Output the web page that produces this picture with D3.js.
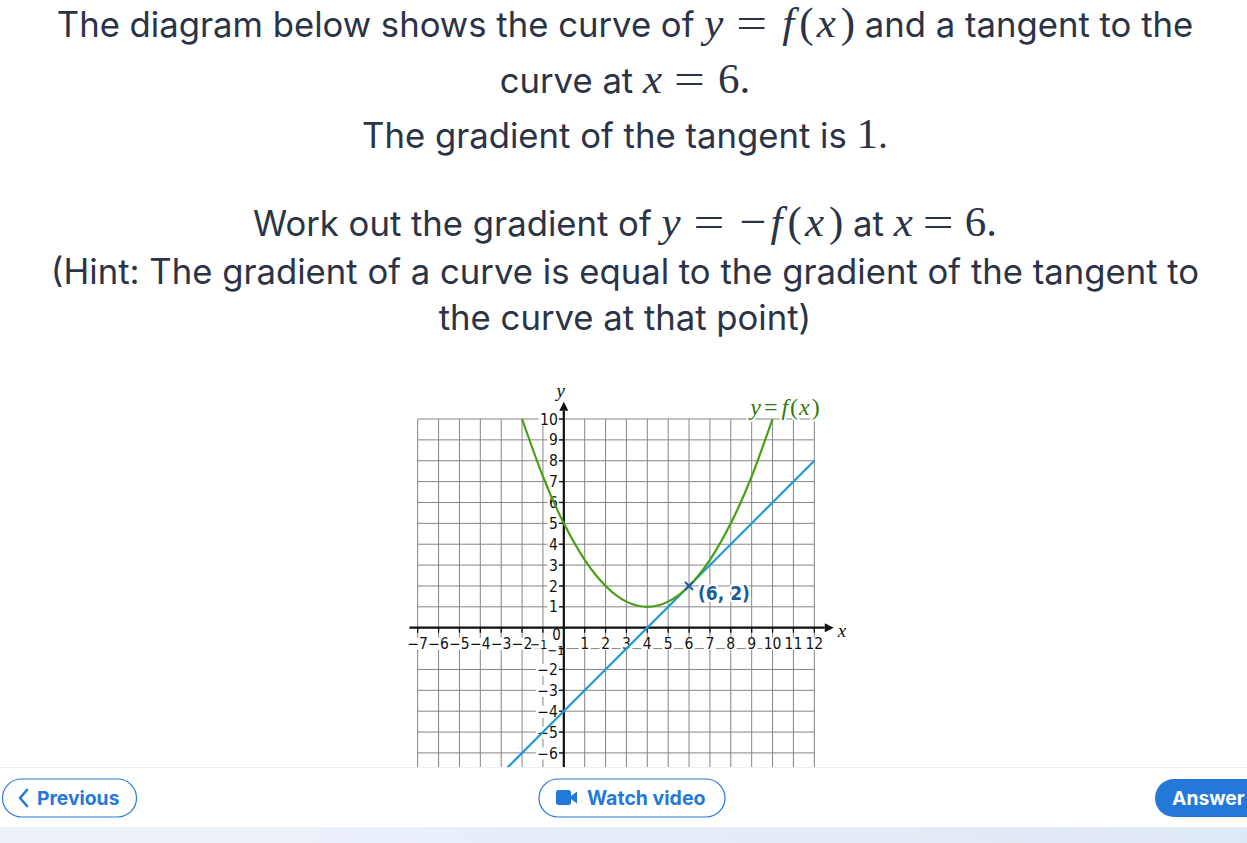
<!DOCTYPE html>
<html><head><meta charset="utf-8">
<script src="https://cdn.jsdelivr.net/npm/d3@7"></script>
<style>
html,body{margin:0;padding:0;background:#fff;overflow:hidden}
svg{display:block}
</style></head>
<body>
<script>
// ---------- data ----------
const xTicks = [-7,-6,-5,-4,-3,-2,-1,0,1,2,3,4,5,6,7,8,9,10,11,12];
const yTicks = [-7,-6,-5,-4,-3,-2,-1,0,1,2,3,4,5,6,7,8,9,10];
const xLabels = [-7,-6,-5,-4,-3,-2,-1,1,2,3,4,5,6,7,8,9,10,11,12];
const yLabels = [-6,-5,-4,-3,-2,-1,1,2,3,4,5,6,7,8,9,10];
const curveX = [-2,-1,0,1,2,3,4,5,6,7,8,9,10];
const curveY = [10,7.25,5,3.25,2,1.25,1,1.25,2,3.25,5,7.25,10];
const tangentX = [-3,12];
const tangentY = [-7,8];
const pointX = [6];
const pointY = [2];
const pointLabel = ["(6, 2)"];

const W = 1247, H = 843;
const svg = d3.select("body").append("svg").attr("width", W).attr("height", H);

// ---------- header text ----------
const sans = "Inter, 'Open Sans', sans-serif";
const serif = "'Liberation Serif', 'DejaVu Serif', serif";
const txtCol = "#2b3346";
// part: [text, kind (t text / m math italic / u math upright), dx, textLength]
const lines = [
  {y:37, parts:[["The diagram below shows the curve of ","t"],["y","m"],["=","u",13,31],["f","m",15],["(","u",5],["x","m",3],[")","u",5],[" and a tangent to the","t"]]},
  {y:93, parts:[["curve at ","t"],["x","m"],["=","u",12,31],["6.","u",13]]},
  {y:148, parts:[["The gradient of the tangent is ","t"],["1","u"],[".","t"]]},
  {y:236, parts:[["Work out the gradient of ","t"],["y","m"],["=","u",13,31],["−","u",15,27],["f","m",4],["(","u",5],["x","m",3],[")","u",5],[" at ","t"],["x","m"],["=","u",10,31],["6.","u",11]]},
  {y:284, parts:[["(Hint: The gradient of a curve is equal to the gradient of the tangent to","t"]]},
  {y:330, parts:[["the curve at that point)","t"]]}
];
lines.forEach(l => {
  const t = svg.append("text").attr("x", 625).attr("y", l.y)
    .attr("text-anchor","middle").attr("fill", txtCol)
    .style("font-family", sans).style("font-size","34.7px").style("font-weight","400");
  l.parts.forEach(p => {
    const s = t.append("tspan").text(p[0]);
    if (p[1] === "m") s.style("font-family", serif).style("font-style","italic").style("font-size","43px");
    if (p[1] === "u") s.style("font-family", serif).style("font-size","43px");
    if (p[2]) s.attr("dx", p[2]);
    if (p[3]) s.attr("textLength", p[3]).attr("lengthAdjust","spacingAndGlyphs");
  });
});

// ---------- chart ----------
const x = d3.scaleLinear().domain([-7,12]).range([417.7,814.3]);
const y = d3.scaleLinear().domain([0,10]).range([627.7,419]);
const bottomClip = 767;

svg.append("clipPath").attr("id","cp").append("rect")
  .attr("x",0).attr("y",0).attr("width",W).attr("height",bottomClip);
const g = svg.append("g").attr("clip-path","url(#cp)");

const gridCol = "#858585";
g.append("g").selectAll("line").data(xTicks).join("line")
  .attr("x1", d=>x(d)).attr("x2", d=>x(d))
  .attr("y1", y(10)).attr("y2", y(-7))
  .attr("stroke", gridCol).attr("stroke-width",1);
g.append("g").selectAll("line").data(yTicks).join("line")
  .attr("x1", x(-7)).attr("x2", x(12))
  .attr("y1", d=>y(d)).attr("y2", d=>y(d))
  .attr("stroke", gridCol).attr("stroke-width",1);

const labFont = "'Liberation Sans Narrow', 'DejaVu Sans Condensed', 'Roboto', sans-serif";
const bgLayer = g.append("g");
function backBox(sel, padX = 1.5, padY = 0) {
  sel.each(function() {
    const b = this.getBBox();
    bgLayer.append("rect").attr("x", b.x - padX).attr("y", b.y + 3 - padY)
      .attr("width", b.width + 2*padX).attr("height", Math.max(0, b.height - 6 + 2*padY)).attr("fill","#fff");
  });
}

g.append("g").selectAll("line").data(xLabels).join("line")
  .attr("x1", d=>x(d)).attr("x2", d=>x(d))
  .attr("y1", y(0)).attr("y2", y(0)+5)
  .attr("stroke","#111").attr("stroke-width",1.3);
g.append("g").selectAll("line").data(yLabels).join("line")
  .attr("x1", x(0)-5).attr("x2", x(0))
  .attr("y1", d=>y(d)).attr("y2", d=>y(d))
  .attr("stroke","#111").attr("stroke-width",1.3);

const xl = g.append("g").selectAll("text").data(xLabels).join("text")
  .attr("x", d=> d === -1 ? x(d)-4 : x(d)).attr("y", y(0)+21)
  .attr("text-anchor","middle").attr("fill","#111")
  .style("font-family", labFont).style("font-size", d => d === -1 ? "13px" : "15.5px")
  .text(d => d < 0 ? "−" + Math.abs(d) : d);
const yl = g.append("g").selectAll("text").data(yLabels).join("text")
  .attr("x", d=> d === -1 ? x(0)+1 : x(0)-6).attr("y", d=> d === -1 ? y(d)+2 : y(d)).attr("dy","0.36em")
  .attr("text-anchor","end").attr("fill","#111")
  .style("font-family", labFont).style("font-size", d => d === -1 ? "13px" : "15.5px")
  .text(d => d < 0 ? "−" + Math.abs(d) : d);
const ol = g.append("text").attr("x", x(0)-3).attr("y", y(0)+12)
  .attr("text-anchor","end").attr("fill","#111")
  .style("font-family", labFont).style("font-size","15px").text("0");
backBox(xl); backBox(yl); backBox(ol);

// axes
g.append("line").attr("x1", x(-7.4)).attr("x2", x(12.5)).attr("y1", y(0)).attr("y2", y(0))
  .attr("stroke","#111").attr("stroke-width",2.2);
g.append("line").attr("x1", x(0)).attr("x2", x(0)).attr("y1", bottomClip).attr("y2", y(10.4))
  .attr("stroke","#111").attr("stroke-width",2.2);
const xa = x(12.5), ya = y(10.4);
g.append("path").attr("d", `M${xa},${y(0)-4.5} L${xa+9},${y(0)} L${xa},${y(0)+4.5} Z`).attr("fill","#111");
g.append("path").attr("d", `M${x(0)-4.5},${ya} L${x(0)},${ya-9} L${x(0)+4.5},${ya} Z`).attr("fill","#111");
g.append("text").attr("x", 842).attr("y", y(0)+9).attr("text-anchor","middle")
  .style("font-family", serif).style("font-style","italic").style("font-size","19px").attr("fill","#111").text("x");
g.append("text").attr("x", x(0)-3).attr("y", 397).attr("text-anchor","middle")
  .style("font-family", serif).style("font-style","italic").style("font-size","19px").attr("fill","#111").text("y");

// tangent
const tData = tangentX.map((d,i)=>[d,tangentY[i]]);
const lineGen = d3.line().x(d=>x(d[0])).y(d=>y(d[1]));
g.append("path").datum(tData).attr("d", lineGen)
  .attr("fill","none").attr("stroke","#1a9ad7").attr("stroke-width",2.2);

// curve
const cData = curveX.map((d,i)=>[d,curveY[i]]);
g.append("path").datum(cData).attr("d", lineGen.curve(d3.curveNatural))
  .attr("fill","none").attr("stroke","#46a013").attr("stroke-width",2.2);

// point marker
const pc = "#1d5c99";
pointX.forEach((px,i) => {
  const cx = x(px), cy = y(pointY[i]), s = 4;
  g.append("path").attr("d", `M${cx-s},${cy-s}L${cx+s},${cy+s}M${cx-s},${cy+s}L${cx+s},${cy-s}`)
    .attr("stroke", pc).attr("stroke-width",2);
  g.append("text").attr("x", cx+9).attr("y", cy+14)
    .style("font-family", labFont).style("font-size","19px").style("font-weight","bold")
    .attr("fill", pc).text(pointLabel[i])
    .attr("stroke","#fff").attr("stroke-width",4).attr("paint-order","stroke").attr("stroke-linejoin","round");
});

// curve label
const cl = g.append("text").attr("x", 785).attr("y", 415).attr("text-anchor","middle")
  .attr("fill","#2f7a0c").style("font-family", serif).style("font-size","24px")
  .attr("stroke","#fff").attr("stroke-width",4).attr("paint-order","stroke").attr("stroke-linejoin","round");
cl.append("tspan").style("font-style","italic").text("y");
cl.append("tspan").attr("dx",3).text("=");
cl.append("tspan").attr("dx",4).style("font-style","italic").text("f");
cl.append("tspan").attr("dx",2).text("(");
cl.append("tspan").attr("dx",1).style("font-style","italic").text("x");
cl.append("tspan").attr("dx",2).text(")");

// ---------- bottom bar ----------
svg.append("line").attr("x1",0).attr("x2",W).attr("y1",767.5).attr("y2",767.5).attr("stroke","#eceef5").attr("stroke-width",1);
const defs = svg.append("defs");
const lg = defs.append("linearGradient").attr("id","bg").attr("x1","0").attr("x2","1");
lg.append("stop").attr("offset","0").attr("stop-color","#eef2fa");
lg.append("stop").attr("offset","1").attr("stop-color","#dfe8f6");
svg.append("rect").attr("x",0).attr("y",827).attr("width",W).attr("height",16).attr("fill","url(#bg)");
svg.append("path").attr("d","M0,827 L320,827 L312,843 L0,843 Z").attr("fill","#edf1fa");

const blue = "#2479d8";
const btnFont = "Inter, 'Open Sans', sans-serif";
svg.append("rect").attr("x",2.5).attr("y",779).attr("width",134).attr("height",38).attr("rx",19)
  .attr("fill","#fff").attr("stroke",blue).attr("stroke-width",1.2);
svg.append("path").attr("d","M27,790 L20,798 L27,806").attr("fill","none").attr("stroke",blue).attr("stroke-width",2.6).attr("stroke-linecap","round").attr("stroke-linejoin","round");
svg.append("text").attr("x",37).attr("y",805).attr("fill",blue)
  .style("font-family",btnFont).style("font-weight","700").style("font-size","19.3px").text("Previous");
svg.append("rect").attr("x",539).attr("y",779).attr("width",186).attr("height",38).attr("rx",19)
  .attr("fill","#fff").attr("stroke",blue).attr("stroke-width",1.2);
svg.append("rect").attr("x",556).attr("y",790).attr("width",15).attr("height",15).attr("rx",2.5).attr("fill",blue);
svg.append("path").attr("d","M571,796 L577,791.5 L577,803.5 L571,799 Z").attr("fill",blue);
svg.append("text").attr("x",587).attr("y",805).attr("fill",blue)
  .style("font-family",btnFont).style("font-weight","700").style("font-size","19.5px").text("Watch video");
svg.append("rect").attr("x",1155).attr("y",779).attr("width",120).attr("height",38).attr("rx",19).attr("fill",blue);
svg.append("text").attr("x",1172).attr("y",805).attr("fill","#fff")
  .style("font-family",btnFont).style("font-weight","700").style("font-size","19.3px").text("Answer");
</script>
</body></html>
